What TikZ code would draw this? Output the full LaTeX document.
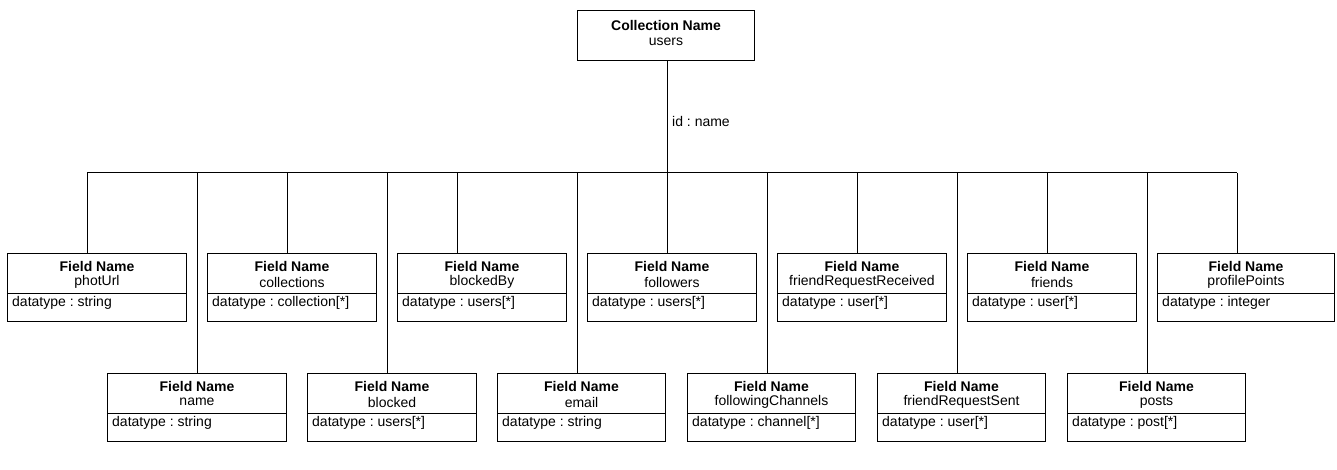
\documentclass[tikz,border=0pt]{standalone}
\usepackage{fontspec}
\setmainfont{Liberation Sans}
\usetikzlibrary{positioning}
\frenchspacing

\tikzset{
  fieldrect/.style={draw,line width=1pt,inner sep=0pt,minimum height=68pt,anchor=north west},
  conn/.style={line width=1pt}
}

\newcommand{\fieldbox}[6]{%
  \node[fieldrect,minimum width=#4pt] (#1) at (#2,#3) {};
  \draw[conn] ([yshift=-40pt]#1.north west) -- ([yshift=-40pt]#1.north east);
  \node[font=\fontsize{14}{16}\bfseries] at ([yshift=-13pt]#1.north) {Field Name};
  \node at ([yshift=-29pt]#1.north) {#5};
  \node[anchor=west] at ([xshift=5pt,yshift=-50pt]#1.north west) {datatype : #6};
}

\begin{document}
\begin{tikzpicture}[x=1pt,y=-1pt,every node/.style={font=\fontsize{14}{16}\selectfont,inner sep=0pt}]
\useasboundingbox (0,0) rectangle (1337,470);
\node[draw,line width=1pt,minimum width=177pt,minimum height=50pt,anchor=north west] (users) at (577,10) {};
\node[font=\fontsize{14}{16}\bfseries] at ([yshift=-16pt]users.north) {Collection Name};
\node at ([yshift=-32pt]users.north) {users};
\coordinate (hub) at (667,173);
\coordinate (busl) at (87,173);
\coordinate (busr) at (1237,173);
\draw[conn] (users.south -| hub) -- (hub);
\node[anchor=west] (idlbl) at (672,121) {id : name};
\draw[conn] (busl) -- (busr);
\fieldbox{photurl}{7}{253}{179}{photUrl}{string}
\fieldbox{collections}{207}{253}{169}{collections}{collection[*]}
\fieldbox{blockedby}{397}{253}{169}{blockedBy}{users[*]}
\fieldbox{followers}{587}{253}{169}{followers}{users[*]}
\fieldbox{frreceived}{777}{253}{169}{friendRequestReceived}{user[*]}
\fieldbox{friends}{967}{253}{169}{friends}{user[*]}
\fieldbox{profilepoints}{1157}{253}{177}{profilePoints}{integer}
\fieldbox{name}{107}{373}{179}{name}{string}
\fieldbox{blocked}{307}{373}{169}{blocked}{users[*]}
\fieldbox{email}{497}{373}{168}{email}{string}
\fieldbox{following}{687}{373}{168}{followingChannels}{channel[*]}
\fieldbox{frsent}{877}{373}{168}{friendRequestSent}{user[*]}
\fieldbox{posts}{1067}{373}{178}{posts}{post[*]}
\foreach \n/\x in {photurl/87,collections/287,blockedby/457,followers/667,frreceived/857,friends/1047,profilepoints/1237,
                   name/197,blocked/387,email/577,following/767,frsent/957,posts/1147}{
  \coordinate (j\n) at (\x,173);
  \draw[conn] (j\n) -- (j\n |- \n.north);
}
\end{tikzpicture}
\end{document}
